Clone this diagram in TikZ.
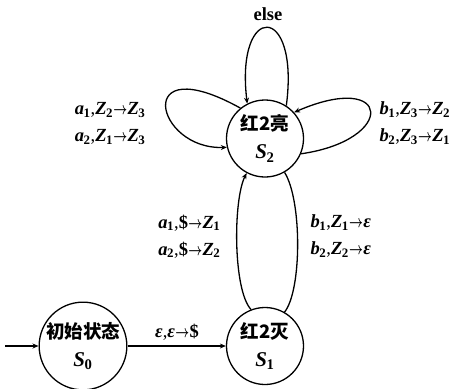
\documentclass[tikz,border=0pt]{standalone}
\usepackage{fontspec}
\setmainfont{Liberation Serif}
\newfontfamily\cjk{Noto Sans CJK SC}
\usetikzlibrary{arrows.meta}
\newcommand\vs[2]{\textbf{\textit{#1}}\kern-0.5pt\textsubscript{\textbf{#2}}}
\newcommand\myarr{\kern0.3pt\scalebox{0.7}[1]{\boldmath$\rightarrow$}\kern0.3pt}
\newcommand\eps{\textbf{\textit{ε}}}
\newcommand\dol{\textbf{\$}}
\begin{document}
\begin{tikzpicture}[x=1pt,y=-1pt,line width=1.3pt,>={Stealth[length=6pt,width=5pt]},
  state/.style={circle,draw,minimum size=77pt,inner sep=0pt,align=center,font=\fontsize{18.5}{28}\selectfont},
  lab/.style={align=center,font=\fontsize{18.5}{27}\selectfont,inner sep=0pt}]
\useasboundingbox (0,0) rectangle (452,388);
\node[state] (S0) at (83,346) {{\cjk\bfseries 初始状态}\\{\fontsize{21}{28}\selectfont\vs{S}{0}}};
\node[state] (S1) at (265,346) {{\cjk\bfseries 红2灭}\\{\fontsize{21}{28}\selectfont\vs{S}{1}}};
\node[state] (S2) at (265,138.5) {{\cjk\bfseries 红2亮}\\{\fontsize{21}{28}\selectfont\vs{S}{2}}};
\coordinate (init) at (5,346);
\draw[->] (init) -- (S0);
\draw[->] (S0) -- (S1);
\draw[->] (S2.57) .. controls (300,2) and (235,2) .. (S2.117);
\draw[->] (S2.129) .. controls (132,48) and (155,150) .. (S2.193);
\draw[->] (S2.-23) .. controls (397,140) and (392,70) .. (S2.42);
\draw[->] (S1.111) .. controls (233,290) and (233,200) .. (S2.242);
\draw (S2.300) .. controls (302,200) and (302,290) .. (S1.60);
\node[lab] (le) at (268,14) {\bfseries else};
\node[lab,anchor=east] (ll) at (146,123.5) {\vs{a}{1},\vs{Z}{2}\myarr\vs{Z}{3}\\\vs{a}{2},\vs{Z}{1}\myarr\vs{Z}{3}};
\node[lab,anchor=west] (lr) at (379,123.5) {\vs{b}{1},\vs{Z}{3}\myarr\vs{Z}{2}\\\vs{b}{2},\vs{Z}{3}\myarr\vs{Z}{1}};
\node[lab,anchor=east] (ml) at (221,236.5) {\vs{a}{1},\dol\myarr\vs{Z}{1}\\\vs{a}{2},\dol\myarr\vs{Z}{2}};
\node[lab,anchor=west] (mr) at (310,236.5) {\vs{b}{1},\vs{Z}{1}\myarr\eps\\\vs{b}{2},\vs{Z}{2}\myarr\eps};
\node[lab] (lb) at (177,332) {\eps,\eps\myarr\dol};
\end{tikzpicture}
\end{document}
